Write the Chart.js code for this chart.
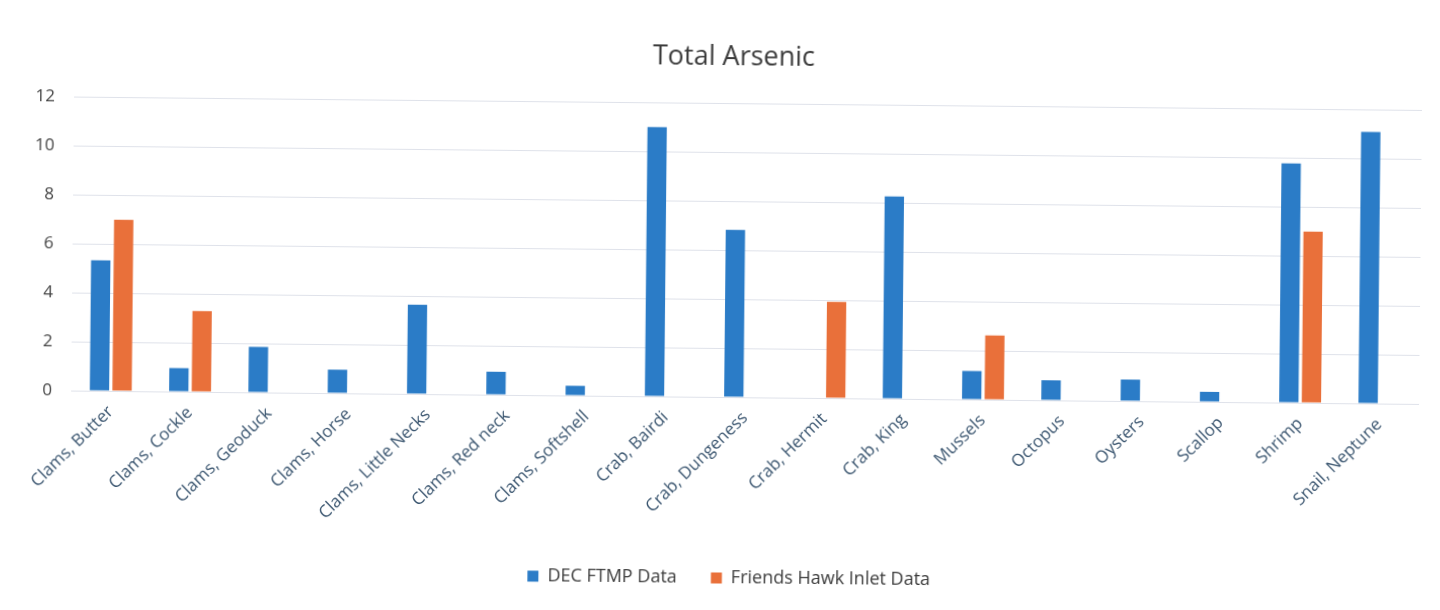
<!DOCTYPE html>
<html>
<head>
<meta charset="utf-8">
<script src="https://cdn.jsdelivr.net/npm/chart.js@4.4.1/dist/chart.umd.min.js"></script>
<style>
  html, body { margin: 0; padding: 0; background: #fff; overflow: hidden; }
  #wrap { width: 1440px; height: 610px; transform: rotate(0.57deg); transform-origin: 720px 305px; }
</style>
</head>
<body>
<div id="wrap"><canvas id="arsenicChart" width="1440" height="610"></canvas></div>
<script>
// categories + values
const species = ['Clams, Butter', 'Clams, Cockle', 'Clams, Geoduck', 'Clams, Horse', 'Clams, Little Necks',
  'Clams, Red neck', 'Clams, Softshell', 'Crab, Bairdi', 'Crab, Dungeness', 'Crab, Hermit', 'Crab, King',
  'Mussels', 'Octopus', 'Oysters', 'Scallop', 'Shrimp', 'Snail, Neptune'];
const decData = [5.33, 0.96, 1.86, 0.96, 3.65, 0.94, 0.4, 11.0, 6.84, null, 8.27, 1.16, 0.82, 0.88, 0.41, 9.78, 11.1];
const friendsData = [7.0, 3.3, null, null, null, null, null, null, null, 3.93, null, 2.63, null, null, null, 7.0, null];
const yTicks = [0, 2, 4, 6, 8, 10, 12];

const fontFamily = "'Open Sans', sans-serif";

const ctx = document.getElementById('arsenicChart').getContext('2d');
const arsenicChart = new Chart(ctx, {
  type: 'bar',
  data: {
    labels: species,
    datasets: [
      {
        label: 'DEC FTMP Data',
        data: decData,
        backgroundColor: '#2b7cc7',
        borderWidth: 0
      },
      {
        label: 'Friends Hawk Inlet Data',
        data: friendsData,
        backgroundColor: '#e9703a',
        borderWidth: 0
      }
    ]
  },
  options: {
    responsive: false,
    animation: false,
    layout: {
      padding: { top: 10, left: 28, right: 5, bottom: 13 }
    },
    datasets: {
      bar: {
        categoryPercentage: 0.57,
        barPercentage: 0.855
      }
    },
    scales: {
      x: {
        grid: { display: false },
        border: { display: false },
        ticks: {
          autoSkip: false,
          minRotation: 45,
          maxRotation: 45,
          padding: 3,
          color: '#3b5670',
          font: { family: fontFamily, size: 17 }
        },
        afterFit: (scale) => { scale.height = 138; }
      },
      y: {
        min: 0,
        max: 12,
        afterBuildTicks: (scale) => { scale.ticks = yTicks.map(v => ({ value: v })); },
        grid: { color: '#dfe2ea', drawTicks: false, lineWidth: 1 },
        border: { display: false },
        ticks: {
          padding: 19,
          color: '#444',
          font: { family: fontFamily, size: 17 }
        },
        afterFit: (scale) => { scale.width = 44; }
      },
      // empty right-hand axis, only there to keep the plot off the right edge
      yRight: {
        position: 'right',
        display: true,
        grid: { display: false },
        border: { display: false },
        ticks: { display: false },
        afterFit: (scale) => { scale.width = 15; }
      }
    },
    plugins: {
      title: {
        display: true,
        text: 'Total Arsenic',
        color: '#3c3c3c',
        font: { family: fontFamily, size: 27, weight: 'normal' },
        padding: { top: 31, bottom: 30 }
      },
      legend: {
        position: 'bottom',
        labels: {
          boxWidth: 11,
          boxHeight: 11,
          padding: 34,
          color: '#3c3c3c',
          font: { family: fontFamily, size: 18 }
        }
      },
      tooltip: { enabled: false }
    }
  }
});
</script>
</body>
</html>
